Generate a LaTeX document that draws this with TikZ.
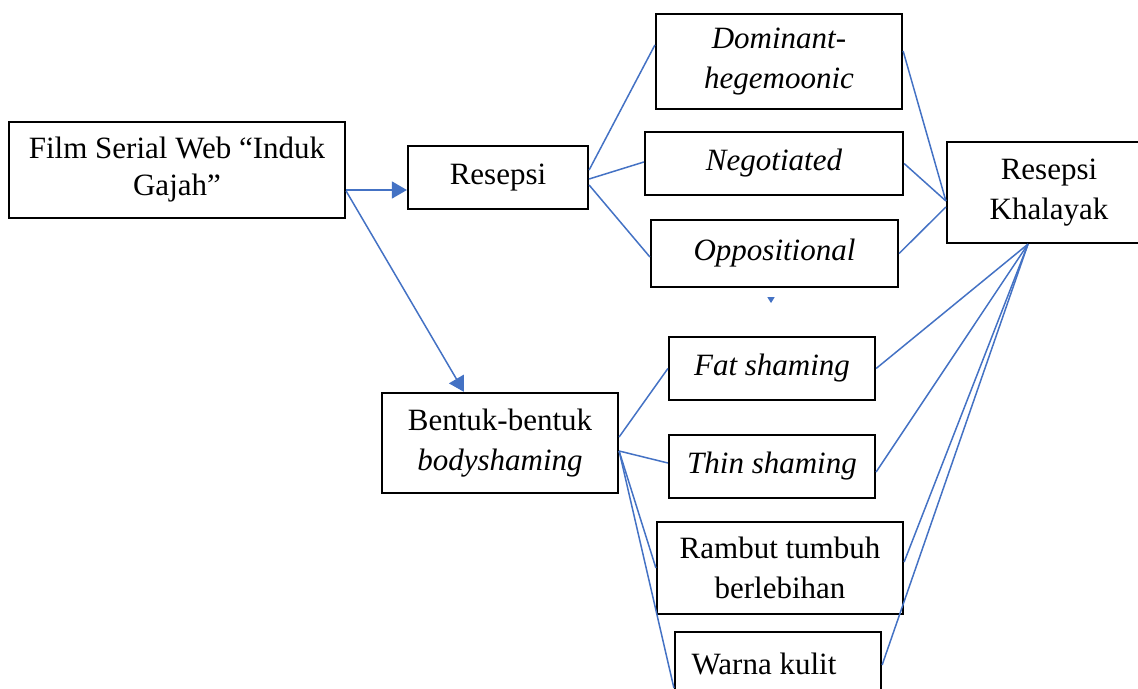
\documentclass[tikz,border=0pt]{standalone}
\usepackage{fontspec}
\setmainfont{Liberation Serif}
\usepackage{tikz}
\usetikzlibrary{arrows.meta}
\definecolor{lineblue}{HTML}{4472C4}

\begin{document}
\begin{tikzpicture}[x=0.5pt,y=-0.5pt,
		box/.style={draw=black,line width=1.1pt,rectangle,inner sep=0pt,align=center,font=\fontsize{15.5}{20}\selectfont},
		conn/.style={draw=lineblue,line width=0.75pt},
		tip/.style={-{Triangle[length=7.5pt,width=8.5pt]}}]
		\clip (0,0) rectangle (1138,689);
		%\draw (0,0) grid (1138,689);
		\node[box,minimum width=168pt,minimum height=48pt,font=\fontsize{15.5}{18.5}\selectfont] (film) at (177,170) {Film Serial Web “Induk\\Gajah”};
		\node[box,minimum width=90pt,minimum height=31.5pt] (resepsi) at (498,177.5) {Resepsi};
		\node[box,minimum width=118pt,minimum height=50pt] (bentuk) at (500,443) {Bentuk-bentuk\\\textit{bodyshaming}};
		\node[box,minimum width=123pt,minimum height=47.5pt,font=\fontsize{15.5}{20}\selectfont\itshape] (dominant) at (779,61.5) {Dominant-\\hegemoonic};
		\node[box,minimum width=129pt,minimum height=31.5pt,font=\fontsize{15.5}{20}\selectfont\itshape] (negotiated) at (774,163.5) {Negotiated};
		\node[box,minimum width=123.5pt,minimum height=33.5pt,font=\fontsize{15.5}{20}\selectfont\itshape] (opp) at (774.5,253.5) {Oppositional};
		\node[box,minimum width=102pt,minimum height=50.5pt] (khalayak) at (1049,192.5) {Resepsi\\Khalayak};
		\node[box,minimum width=103pt,minimum height=31.5pt,font=\fontsize{15.5}{20}\selectfont\itshape] (fat) at (772,368.5) {Fat shaming};
		\node[box,minimum width=103pt,minimum height=31.5pt,font=\fontsize{15.5}{20}\selectfont\itshape] (thin) at (772,466.5) {Thin shaming};
		\node[box,minimum width=123pt,minimum height=46pt] (rambut) at (780,568) {Rambut tumbuh\\berlebihan};
		\node[box,minimum width=103pt,minimum height=31.5pt] (warna) at (778,663.5) {Warna kulit\hspace*{14pt}};

		% film to resepsi and bentuk
		\draw[conn,tip] ([yshift=-10pt]film.east) -- ([yshift=-6.25pt]resepsi.west);
		\draw[conn,tip] ([yshift=-10.5pt]film.east) -- ([xshift=-18pt]bentuk.north);
		% stray tip under oppositional
		\coordinate (stray) at ([xshift=-1.75pt,yshift=-4.5pt]opp.south);
		\draw[conn,-{Triangle[length=3pt,width=3.5pt]}] (stray) -- ++(0,6);

		% resepsi to the three readings
		\draw[conn] ([yshift=3.75pt]resepsi.east) -- ([yshift=8.25pt]dominant.west);
		\draw[conn] ([yshift=-0.75pt]resepsi.east) -- ([yshift=0.75pt]negotiated.west);
		\draw[conn] ([yshift=-3.75pt]resepsi.east) -- ([yshift=-1.75pt]opp.west);
		% readings to khalayak
		\draw[conn] ([yshift=5.25pt]dominant.east) -- ([yshift=-4.25pt]khalayak.west);
		\draw[conn] (negotiated.east) -- ([yshift=-4.25pt]khalayak.west);
		\draw[conn] (opp.east) -- ([yshift=-7.25pt]khalayak.west);

		% bentuk to the four forms
		\draw[conn] ([yshift=3pt]bentuk.east) -- (fat.west);
		\draw[conn] ([yshift=-4pt]bentuk.east) -- ([yshift=1.75pt]thin.west);
		\draw[conn] ([yshift=-4pt]bentuk.east) -- (rambut.west);
		\draw[conn] ([yshift=-4pt]bentuk.east) -- ([yshift=-12.25pt]warna.west);
		% forms to khalayak
		\draw[conn] ([xshift=-10.5pt]khalayak.south) -- (fat.east);
		\draw[conn] ([xshift=-10.5pt]khalayak.south) -- ([yshift=-2.75pt]thin.east);
		\draw[conn] ([xshift=-10.5pt]khalayak.south) -- ([yshift=3pt]rambut.east);
		\draw[conn] ([xshift=-10.5pt]khalayak.south) -- ([yshift=-0.75pt]warna.east);
	\end{tikzpicture}
\end{document}
